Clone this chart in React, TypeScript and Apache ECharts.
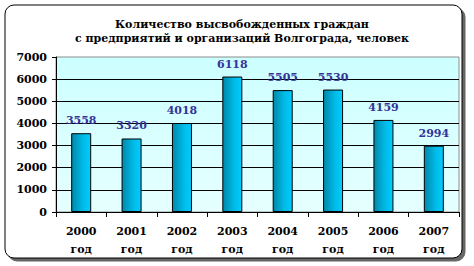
import React, { useEffect, useRef } from "react";
import * as echarts from "echarts";

const titleLines = [
  "Количество высвобожденных граждан",
  "с предприятий и организаций Волгограда, человек",
];
const years = ["2000", "2001", "2002", "2003", "2004", "2005", "2006", "2007"];
const yearSuffix = "год";
const released = [3558, 3320, 4018, 6118, 5505, 5530, 4159, 2994];

const FONT = "'DejaVu Serif', 'Liberation Serif', serif";

export default function App() {
  const ref = useRef<HTMLDivElement>(null);
  useEffect(() => {
    if (!ref.current) return;
    const chart = echarts.init(ref.current, null, { renderer: "svg" });
    chart.setOption({
      animation: false,
      backgroundColor: "#ffffff",
      title: {
        text: titleLines.join("\n"),
        left: 237,
        textAlign: "center",
        top: 12,
        textStyle: {
          fontFamily: FONT,
          fontWeight: "bold",
          fontSize: 11,
          lineHeight: 14,
          color: "#000",
        },
      },
      graphic: [
        {
          type: "rect",
          z: -10,
          shape: { x: 5, y: 5, width: 457, height: 253, r: 9 },
          style: {
            fill: "#fff",
            stroke: "#000",
            lineWidth: 1,
            shadowColor: "rgba(0,0,0,0.6)",
            shadowOffsetX: 3,
            shadowOffsetY: 3,
            shadowBlur: 1,
          },
        },
      ],
      grid: {
        left: 56,
        right: 15,
        top: 57,
        bottom: 54,
        show: true,
        borderColor: "#8c8c8c",
        borderWidth: 1,
        backgroundColor: {
          type: "linear",
          x: 0,
          y: 0,
          x2: 0,
          y2: 1,
          colorStops: [
            { offset: 0, color: "#ccffff" },
            { offset: 1, color: "#e6ffff" },
          ],
        },
      },
      xAxis: {
        type: "category",
        data: years,
        axisLine: { lineStyle: { color: "#000", width: 1 } },
        axisTick: { show: true, length: 5, lineStyle: { color: "#000" } },
        axisLabel: {
          formatter: (v: string) => v + "\n" + yearSuffix,
          fontFamily: FONT,
          fontWeight: "bold",
          fontSize: 11,
          lineHeight: 18,
          color: "#000",
          margin: 10,
          interval: 0,
        },
      },
      yAxis: {
        type: "value",
        min: 0,
        max: 7000,
        interval: 1000,
        axisLine: { show: true, lineStyle: { color: "#000", width: 1 } },
        axisTick: { show: true, length: 4, lineStyle: { color: "#000" } },
        axisLabel: {
          formatter: (v: number) => String(v),
          fontFamily: FONT,
          fontWeight: "bold",
          fontSize: 11,
          color: "#000",
          margin: 9,
        },
        splitLine: { show: true, showMaxLine: false, lineStyle: { color: "#000", width: 1 } },
      },
      series: [
        {
          type: "bar",
          data: released,
          barWidth: 20,
          itemStyle: {
            borderColor: "#000",
            borderWidth: 1,
            color: {
              type: "linear",
              x: 0,
              y: 0,
              x2: 1,
              y2: 0,
              colorStops: [
                { offset: 0, color: "#0088aa" },
                { offset: 0.6, color: "#00bbe8" },
                { offset: 1, color: "#00ccff" },
              ],
            },
          },
          label: {
            show: true,
            position: "top",
            distance: 7,
            fontFamily: FONT,
            fontWeight: "bold",
            fontSize: 11,
            color: "#333399",
            textShadowColor: "rgba(120,120,120,0.7)",
            textShadowOffsetX: 1,
            textShadowOffsetY: 1,
            textShadowBlur: 0,
          },
        },
      ],
    });
    return () => chart.dispose();
  }, []);
  return (
    <div
      ref={ref}
      style={{ position: "fixed", left: 0, top: 0, width: 474, height: 266 }}
    />
  );
}
